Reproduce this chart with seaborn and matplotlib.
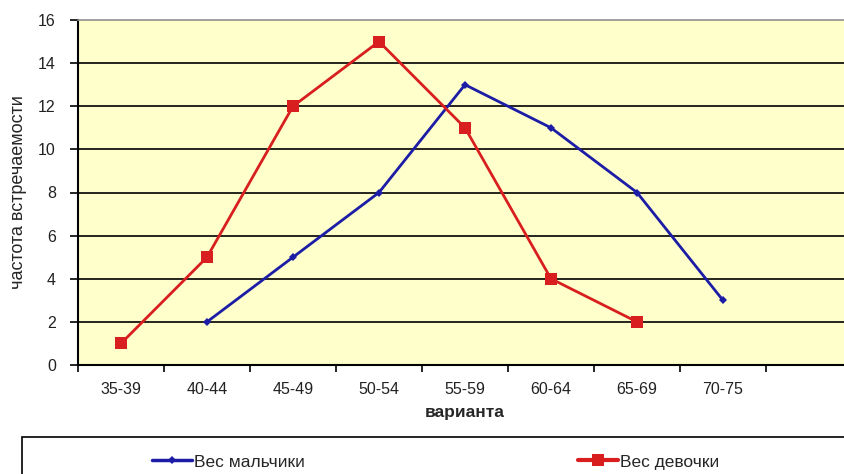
import matplotlib
matplotlib.use("Agg")
import matplotlib.pyplot as plt
from matplotlib.patches import Rectangle
from matplotlib.lines import Line2D
import numpy as np
import pandas as pd
import seaborn as sns

# weight classes (kg) and frequencies
categories = ["35-39", "40-44", "45-49", "50-54", "55-59", "60-64", "65-69", "70-75"]
boys_classes = ["40-44", "45-49", "50-54", "55-59", "60-64", "65-69", "70-75"]
boys_freq = [2, 5, 8, 13, 11, 8, 3]
girls_classes = ["35-39", "40-44", "45-49", "50-54", "55-59", "60-64", "65-69"]
girls_freq = [1, 5, 12, 15, 11, 4, 2]
yticks = [0, 2, 4, 6, 8, 10, 12, 14, 16]

boys_label = "Вес мальчики"
girls_label = "Вес девочки"

pos = {c: i for i, c in enumerate(categories)}
df = pd.concat([
    pd.DataFrame({"x": [pos[c] for c in boys_classes], "y": boys_freq, "series": boys_label}),
    pd.DataFrame({"x": [pos[c] for c in girls_classes], "y": girls_freq, "series": girls_label}),
])

sns.set_theme(style="white")
plt.rcParams["font.family"] = ["Liberation Sans", "DejaVu Sans"]

W, H = 844, 474
fig = plt.figure(figsize=(W / 100, H / 100), dpi=100)
fig.patch.set_facecolor("white")

ax_left, ax_right, ax_top, ax_bottom = 78, 852, 20, 365
ax = fig.add_axes([ax_left / W, 1 - ax_bottom / H, (ax_right - ax_left) / W, (ax_bottom - ax_top) / H])
ax.set_facecolor("#FFFFCC")

blue = "#1C1CA6"
red = "#D81E1E"
palette = {boys_label: blue, girls_label: red}
markers = {boys_label: "D", girls_label: "s"}

sns.lineplot(data=df, x="x", y="y", hue="series", style="series", markers=markers,
             dashes=False, palette=palette, sort=False, legend=False, ax=ax,
             linewidth=2.0, markeredgewidth=0, zorder=3)
# marker sizes per series
for line, lbl in zip(ax.get_lines(), [boys_label, girls_label]):
    line.set_markersize(4 if lbl == boys_label else 8)

ax.set_xlim(-0.5, 8.5)
ax.set_ylim(0, 16)
ax.set_yticks(yticks)
ax.set_yticklabels([str(v) for v in yticks], fontsize=11.5, color="#222222")
for v in yticks[1:-1]:
    ax.axhline(v, color="black", linewidth=1.2, zorder=1)

# category boundaries as ticks, labels centred between them
ax.set_xticks(np.arange(-0.5, 9.0, 1.0))
ax.set_xticklabels([])
ax.set_xticks(np.arange(len(categories)), minor=True)
ax.set_xticklabels(categories, minor=True, fontsize=11.5, color="#222222")
ax.tick_params(axis="x", which="major", direction="out", length=5, width=1.2, color="black", bottom=True)
ax.tick_params(axis="x", which="minor", length=0, pad=12)
ax.tick_params(axis="y", direction="out", length=6, width=1.2, color="black", left=True, pad=10)

ax.spines["right"].set_visible(False)
ax.spines["left"].set_color("black")
ax.spines["left"].set_linewidth(1.5)
ax.spines["bottom"].set_color("black")
ax.spines["bottom"].set_linewidth(1.5)
ax.spines["top"].set_color("#909090")
ax.spines["top"].set_linewidth(1.2)

ax.set_xlabel("варианта", fontsize=12.5, fontweight="bold", labelpad=6)
ax.set_ylabel("частота встречаемости", fontsize=13, labelpad=8)

# legend box along the bottom
fig.patches.append(Rectangle((22 / W, -0.05), 1.0, (H - 437) / H + 0.05,
                             transform=fig.transFigure, facecolor="white",
                             edgecolor="black", linewidth=1.2))
h_boys = Line2D([], [], color=blue, linewidth=2.5, marker="D", markersize=4, markeredgewidth=0)
h_girls = Line2D([], [], color=red, linewidth=3, marker="s", markersize=8, markeredgewidth=0)
for handle, lbl, xpos in [(h_boys, boys_label, 152), (h_girls, girls_label, 578)]:
    fig.legend([handle], [lbl], loc="center left", bbox_to_anchor=(xpos / W, 1 - 462 / H),
               frameon=False, fontsize=12.5, handlelength=2.3, handletextpad=0.1,
               borderpad=0, borderaxespad=0)

fig.savefig("out.png", dpi=100)
